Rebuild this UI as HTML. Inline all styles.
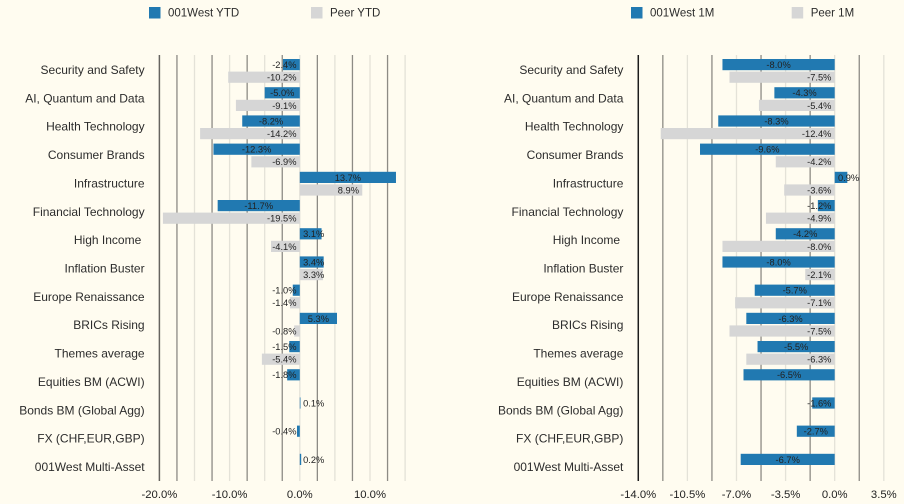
<!DOCTYPE html>
<html lang="en">
<head>
<meta charset="utf-8">
<title>001West returns</title>
<style>
html,body{margin:0;padding:0;background:#fffcf0;width:904px;height:504px;overflow:hidden}
svg{display:block;filter:blur(.3px)}
text{font-family:"Liberation Sans",sans-serif;fill:#2c2c2c}
.cat{font-size:12px;text-anchor:end}
.tick{font-size:11.3px;text-anchor:middle;fill:#222}
.val{font-size:9.3px;fill:#222}
.leg{font-size:11.5px}
</style>
</head>
<body>
<svg id="chart" width="904" height="504" viewBox="0 0 904 504" xmlns="http://www.w3.org/2000/svg"></svg>
<script>
const categories = ["Security and Safety","AI, Quantum and Data","Health Technology","Consumer Brands","Infrastructure","Financial Technology","High Income ","Inflation Buster","Europe Renaissance","BRICs Rising","Themes average","Equities BM (ACWI)","Bonds BM (Global Agg)","FX (CHF,EUR,GBP)","001West Multi-Asset"];
const westYtd = [-2.4,-5.0,-8.2,-12.3,13.7,-11.7,3.1,3.4,-1.0,5.3,-1.5,-1.8,0.1,-0.4,0.2];
const peerYtd = [-10.2,-9.1,-14.2,-6.9,8.9,-19.5,-4.1,3.3,-1.4,-0.8,-5.4,null,null,null,null];
const west1M = [-8.0,-4.3,-8.3,-9.6,0.9,-1.2,-4.2,-8.0,-5.7,-6.3,-5.5,-6.5,-1.6,-2.7,-6.7];
const peer1M = [-7.5,-5.4,-12.4,-4.2,-3.6,-4.9,-8.0,-2.1,-7.1,-7.5,-6.3,null,null,null,null];
const ticksYtd = [-20,-10,0,10];
const ticks1M = [-14,-10.5,-7,-3.5,0,3.5];
const domainYtd = [-20,15];
const domain1M = [-14,3.5];
const gridStepYtd = 2.5;
const gridStep1M = 1.75;

const NS = "http://www.w3.org/2000/svg";
const svg = document.getElementById("chart");
const BLUE = "#2179b1", GRAY = "#d6d6d6";

function xYtd(v){ return 299.8 + v * 7.02; }
function x1M(v){ return 834.7 + v * 14.03; }
function yBlue(i){ return 59 + i * 28.2; }
function yPeer(i){ return 71.6 + i * 28.2; }
function yCat(i){ return 74 + i * 28.36; }

function make(tag, attrs, text){
  const el = document.createElementNS(NS, tag);
  for (const k in attrs) el.setAttribute(k, attrs[k]);
  if (text !== undefined) el.textContent = text;
  svg.appendChild(el);
  return el;
}

function fmt(v){ return v.toFixed(1) + "%"; }

function drawLegend(x1, label1, x2, label2, key){
  const s1 = make("rect",{x:x1,y:7,width:11.5,height:11.5,fill:BLUE});
  
  
  const t1 = make("text",{x:x1+19,y:16.6,class:"leg"},label1);
  
  
  const s2 = make("rect",{x:x2,y:7,width:11.5,height:11.5,fill:GRAY});
  
  
  const t2 = make("text",{x:x2+19,y:16.6,class:"leg"},label2);
  
  
}

function drawGrid(xf, domain, step, axisColor, key){
  const n = Math.round((domain[1]-domain[0])/step);
  for (let k = 0; k <= n; k++){
    const x = xf(domain[0] + k*step);
    const first = k === 0;
    const dark = k % 2 === 1;
    const ln = make("line",{x1:x,x2:x,y1:55,y2:481,
      stroke:first?axisColor:(dark?"#8d8b85":"#e4e2d8"),
      "stroke-width":first?1.5:1.3});
    
    
  }
}

function drawTicks(xf, ticks, key){
  ticks.forEach(function(v){
    const t = make("text",{x:xf(v),y:498,class:"tick"},fmt(v));
    
    
  });
}

function drawCats(right, key){
  categories.forEach(function(c,i){
    const t = make("text",{x:right,y:yCat(i),class:"cat"},c);
    t.style.whiteSpace = "pre";
    
    
  });
}

function drawBars(xf, values, yf, fill, key){
  values.forEach(function(v,i){
    if (v === null) return;
    const x0 = xf(0), x1 = xf(v);
    const r = make("rect",{x:Math.min(x0,x1),y:yf(i),width:Math.abs(x1-x0),height:11.2,fill:fill});
    
    
  });
}

function drawLabels(xf, values, yf, centered, key){
  values.forEach(function(v,i){
    if (v === null) return;
    const x0 = xf(0), x1 = xf(v);
    const t = make("text",{x:0,y:yf(i)+9,class:"val"},fmt(v));
    
    
    const w = t.getComputedTextLength();
    const lo = Math.min(x0,x1), hi = Math.max(x0,x1);
    let left;
    if (v < 0){
      const wantRight = centered ? (lo+hi)/2 + w/2 : hi - 3.3;
      left = Math.min(wantRight, x0 - 3.3) - w;
    } else {
      const wantLeft = centered ? (lo+hi)/2 - w/2 : hi - 3.3 - w;
      left = Math.max(wantLeft, x0 + 3.3);
    }
    t.setAttribute("x", left);
  });
}

drawLegend(149,"001West YTD",311,"Peer YTD","ytd");
drawLegend(631,"001West 1M",791.7,"Peer 1M","one-month");

drawGrid(xYtd,domainYtd,gridStepYtd,"#66645f","ytd");
drawGrid(x1M,domain1M,gridStep1M,"#1c1c1c","one-month");

drawCats(144.6,"ytd");
drawCats(623.4,"one-month");

drawBars(xYtd,westYtd,yBlue,BLUE,"ytd-001west");
drawBars(xYtd,peerYtd,yPeer,GRAY,"ytd-peer");
drawBars(x1M,west1M,yBlue,BLUE,"one-month-001west");
drawBars(x1M,peer1M,yPeer,GRAY,"one-month-peer");

drawLabels(xYtd,westYtd,yBlue,true,"ytd-001west");
drawLabels(xYtd,peerYtd,yPeer,false,"ytd-peer");
drawLabels(x1M,west1M,yBlue,true,"one-month-001west");
drawLabels(x1M,peer1M,yPeer,false,"one-month-peer");

drawTicks(xYtd,ticksYtd,"ytd");
drawTicks(x1M,ticks1M,"one-month");
</script>
</body>
</html>
